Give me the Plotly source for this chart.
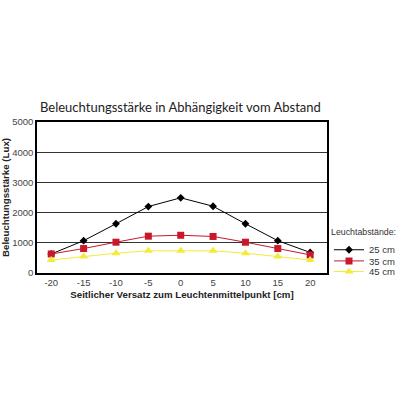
import plotly.graph_objects as go

x_vals = [-20, -15, -10, -5, 0, 5, 10, 15, 20]
s25 = [630, 1070, 1630, 2200, 2490, 2210, 1630, 1070, 680]
s35 = [630, 810, 1020, 1220, 1250, 1210, 1020, 810, 600]
s45 = [430, 545, 655, 735, 740, 735, 655, 545, 430]
names = ["25 cm", "35 cm", "45 cm"]
y_ticks = [0, 1000, 2000, 3000, 4000, 5000]

W = H = 400

fig = go.Figure()
fig.add_trace(go.Scatter(x=x_vals, y=s25, name=names[0], mode="lines+markers",
                         legend="legend",
                         line=dict(color="black", width=1),
                         marker=dict(symbol="diamond", size=6, color="black")))
fig.add_trace(go.Scatter(x=x_vals, y=s35, name=names[1], mode="lines+markers",
                         legend="legend2",
                         line=dict(color="#c8182a", width=1),
                         marker=dict(symbol="square", size=7, color="#c8182a")))
fig.add_trace(go.Scatter(x=x_vals, y=s45, name=names[2], mode="lines+markers",
                         legend="legend3",
                         line=dict(color="#f2ec3a", width=1),
                         marker=dict(symbol="triangle-up", size=8, color="#f2ec3a")))

leg_common = dict(x=1.0 + 2/290, xanchor="left", yanchor="middle",
                  font=dict(size=9.5, color="#333"), bgcolor="rgba(0,0,0,0)",
                  itemwidth=30, tracegroupgap=0)

fig.update_layout(
    width=W, height=H,
    paper_bgcolor="white", plot_bgcolor="white",
    margin=dict(l=37, r=73, t=122, b=127, autoexpand=False),
    title=dict(text="Beleuchtungsstärke in Abhängigkeit vom Abstand",
               x=40/W, xanchor="left", y=1-107/H, yanchor="middle",
               font=dict(family="Lato, Open Sans", size=13, color="#222")),
    font=dict(family="Liberation Sans, Arial", color="#444"),
    showlegend=True,
    legend=dict(leg_common, y=0.19,
                title=dict(text="Leuchtabstände:", font=dict(size=8.8, color="#333"))),
    legend2=dict(leg_common, y=0.08),
    legend3=dict(leg_common, y=0.01),
    xaxis=dict(range=[-22.2, 22.6], tickvals=x_vals, ticktext=[str(v) for v in x_vals],
               automargin=False,
               showgrid=False, zeroline=False, showline=True, linecolor="black",
               linewidth=1.5, mirror=True, ticks="", tickfont=dict(size=9.5, color="#444"),
               title=dict(text="<b>Seitlicher Versatz zum Leuchtenmittelpunkt [cm]</b>",
                          font=dict(size=9.7, color="#222"), standoff=4)),
    yaxis=dict(range=[0, 5000], tickvals=y_ticks,
               automargin=False,
               showgrid=True, gridcolor="#333", gridwidth=1, zeroline=False,
               showline=True, linecolor="black", linewidth=1.5, mirror=True,
               ticks="", tickfont=dict(size=9.5, color="#444"),
               title=dict(text="<b>Beleuchtungsstärke (Lux)</b>",
                          font=dict(size=9.7, color="#222"), standoff=4)),
)

fig.write_html("out.html", config={"displayModeBar": False},
               post_script="document.body.style.margin='0px';")
